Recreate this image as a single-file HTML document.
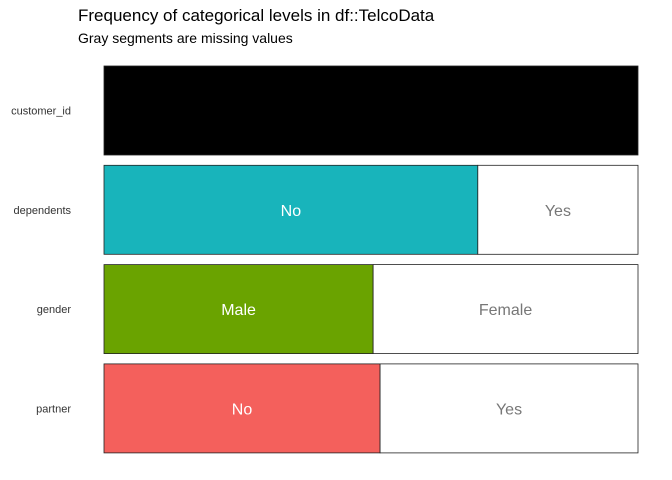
<!DOCTYPE html>
<html><head><meta charset="utf-8"><style>
body{margin:0;background:#fff;font-family:"Liberation Sans",sans-serif}
svg{display:block}
</style></head><body>
<svg id="chart" width="672" height="480">
<text x="78" y="21" font-size="17" fill="#000">Frequency of categorical levels in df::TelcoData</text>
<text x="78" y="43" font-size="14" fill="#000">Gray segments are missing values</text>
</svg>
<script>
const variables = ["customer_id","dependents","gender","partner"];
const topLevels = ["","No","Male","No"];
const otherLevels = ["","Yes","Female","Yes"];
const topShare = [1.0,0.70,0.504,0.517];
const topColors = ["#000000","#18b4bb","#6aa300","#f4605c"];

const svg = document.getElementById('chart');
const NS = 'http://www.w3.org/2000/svg';
const x0 = 104, x1 = 638, y0 = 66, step = 99.3, bh = 89;
const xs = v => x0 + v * (x1 - x0);
const ys = i => y0 + i * step;
function mk(tag, attrs){const e=document.createElementNS(NS,tag);for(const k in attrs)e.setAttribute(k,attrs[k]);svg.appendChild(e);return e;}
variables.forEach((v,i)=>{
  const y = ys(i);
  const lab = mk('text',{x:71,y:y+bh/2+4,'font-size':11,fill:'#333','text-anchor':'end'});
  lab.textContent = v;
  
  
  const r1 = mk('rect',{x:x0,y:y,width:xs(topShare[i])-x0,height:bh,fill:topColors[i],stroke:'#222','stroke-width':0.8});
  
  
  if(topShare[i]<1){
    const r2 = mk('rect',{x:xs(topShare[i]),y:y,width:x1-xs(topShare[i]),height:bh,fill:'#fff',stroke:'#222','stroke-width':0.8});
    
    
    const t1 = mk('text',{x:(x0+xs(topShare[i]))/2,y:y+bh/2+6,'font-size':16,fill:'#fff','text-anchor':'middle'});
    t1.textContent = topLevels[i];
    
    
    const t2 = mk('text',{x:(xs(topShare[i])+x1)/2,y:y+bh/2+6,'font-size':16,fill:'#777','text-anchor':'middle'});
    t2.textContent = otherLevels[i];
    
    
  }
});
</script>
</body></html>
